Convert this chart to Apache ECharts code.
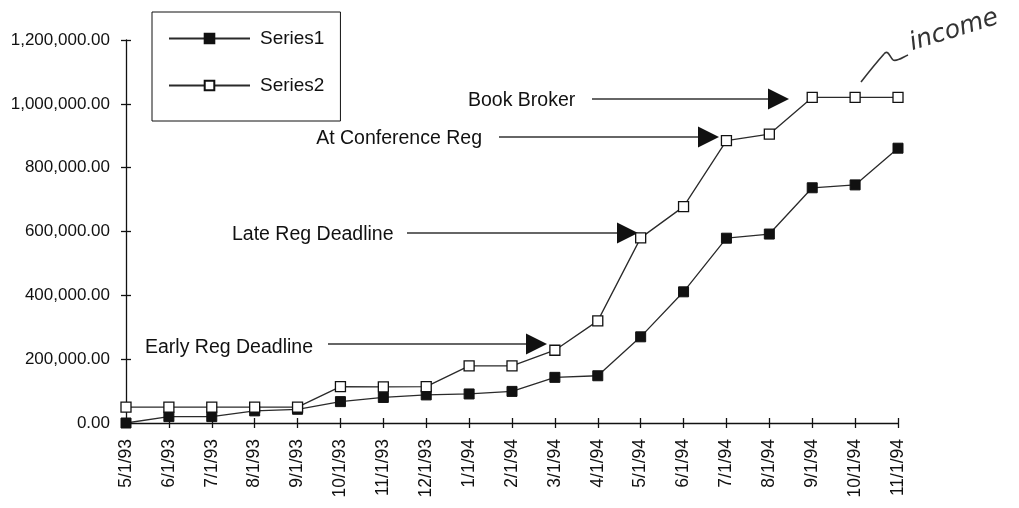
<!DOCTYPE html>
<html>
<head>
<meta charset="utf-8">
<script src="https://cdn.jsdelivr.net/npm/echarts@6/dist/echarts.min.js"></script>
<style>
  html, body { margin: 0; padding: 0; background: #fff; }
  #chart { width: 1019px; height: 508px; }
</style>
</head>
<body>
<div id="chart"></div>
<script>
// month labels on the x axis
var months = ['5/1/93', '6/1/93', '7/1/93', '8/1/93', '9/1/93', '10/1/93', '11/1/93', '12/1/93',
  '1/1/94', '2/1/94', '3/1/94', '4/1/94', '5/1/94', '6/1/94', '7/1/94', '8/1/94', '9/1/94', '10/1/94', '11/1/94'];

// values
var series1 = [0, 20000, 20000, 38000, 43000, 67000, 80000, 88000, 91000, 99000,
  143000, 148000, 270000, 411000, 579000, 592000, 737000, 746000, 861000];
var series2 = [50000, 50000, 50000, 50000, 50000, 114000, 113000, 114000, 179000, 179000,
  228000, 320000, 580000, 678000, 885000, 905000, 1020000, 1020000, 1020000];

var yMin = 0;
var yMax = 1200000;
var yStep = 200000;

var ink = '#111';
var font = '"Liberation Sans", Arial, sans-serif';

function money(v) {
  var s = Math.round(v).toString().replace(/\B(?=(\d{3})+(?!\d))/g, ',');
  return s + '.00';
}

// arrow: horizontal line with a filled triangle head
function arrow(x1, x2, y) {
  return [
    { type: 'line', shape: { x1: x1, y1: y, x2: x2 - 20, y2: y }, style: { stroke: '#333', lineWidth: 1.3 } },
    { type: 'polygon', shape: { points: [[x2 - 21, y - 10.5], [x2, y], [x2 - 21, y + 10.5]] }, style: { fill: '#111' } }
  ];
}

function note(txt, x, y, align) {
  return {
    type: 'text', x: x, y: y,
    style: { text: txt, font: '19.5px ' + font, fill: ink, align: align || 'left', verticalAlign: 'middle' }
  };
}

function stroke(x1, y1, c1x, c1y, c2x, c2y, x2, y2) {
  return {
    type: 'bezierCurve',
    shape: { x1: x1, y1: y1, cpx1: c1x, cpy1: c1y, cpx2: c2x, cpy2: c2y, x2: x2, y2: y2 },
    style: { stroke: '#333', lineWidth: 1.6, fill: null }
  };
}

var chart = echarts.init(document.getElementById('chart'));

var graphics = [];
graphics.push(note('Early Reg Deadline', 145, 348));
graphics = graphics.concat(arrow(328, 547, 344));
graphics.push(note('Late Reg Deadline', 232, 235));
graphics = graphics.concat(arrow(407, 638, 233));
graphics.push(note('At Conference Reg', 482, 139, 'right'));
graphics = graphics.concat(arrow(499, 719, 137));
graphics.push(note('Book Broker', 468, 101));
graphics = graphics.concat(arrow(592, 789, 99));
// handwritten note
graphics.push(stroke(861, 82, 868, 73, 876, 63, 884, 54));
graphics.push(stroke(884, 54, 888, 49, 890, 57, 893, 60));
graphics.push(stroke(893, 60, 897, 62, 903, 57, 908, 55));
graphics.push({
  type: 'text', x: 914, y: 56, rotation: 0.3,
  style: { text: 'income', font: 'italic 25px "DejaVu Sans", sans-serif', fill: '#333', verticalAlign: 'bottom' }
});

chart.setOption({
  animation: false,
  backgroundColor: '#fff',
  grid: { left: 126, right: 121, top: 40, bottom: 85, containLabel: false },
  legend: {
    data: ['Series1', 'Series2'],
    orient: 'vertical',
    left: 152,
    top: 12,
    padding: [17, 16, 26, 16],
    itemWidth: 81,
    itemHeight: 12,
    itemGap: 28,
    borderColor: ink,
    borderWidth: 1,
    textStyle: { fontFamily: font, fontSize: 19, color: ink, padding: [0, 0, 0, 5] }
  },
  xAxis: [{
    type: 'category',
    data: months,
    boundaryGap: false,
    position: 'bottom',
    axisLine: { lineStyle: { color: ink, width: 1.3 } },
    axisTick: { show: true, interval: 0, length: 5, lineStyle: { color: ink, width: 1.3 } },
    axisLabel: { interval: 0, rotate: 90, margin: 16, fontFamily: font, fontSize: 17.5, color: ink },
    splitLine: { show: false }
  }, {
    type: 'category',
    data: months,
    boundaryGap: false,
    position: 'bottom',
    axisLine: { show: false },
    axisTick: { show: true, inside: true, interval: 0, length: 5, lineStyle: { color: ink, width: 1.3 } },
    axisLabel: { show: false },
    splitLine: { show: false }
  }],
  yAxis: [{
    type: 'value',
    min: yMin, max: yMax, interval: yStep,
    axisLine: { show: true, lineStyle: { color: ink, width: 1.3 } },
    axisTick: { show: true, length: 5, lineStyle: { color: ink, width: 1.3 } },
    axisLabel: { margin: 16, fontFamily: font, fontSize: 17, color: ink, formatter: money },
    splitLine: { show: false }
  }, {
    type: 'value',
    position: 'left',
    min: yMin, max: yMax, interval: yStep,
    axisLine: { show: false },
    axisTick: { show: true, inside: true, length: 5, lineStyle: { color: ink, width: 1.3 } },
    axisLabel: { show: false },
    splitLine: { show: false }
  }],
  series: [{
    name: 'Series1',
    type: 'line',
    data: series1,
    symbol: 'rect',
    symbolSize: 10,
    itemStyle: { color: '#111', borderColor: '#111', borderWidth: 1 },
    lineStyle: { color: '#2a2a2a', width: 1.3 }
  }, {
    name: 'Series2',
    type: 'line',
    data: series2,
    symbol: 'rect',
    symbolSize: 10,
    itemStyle: { color: '#fff', borderColor: '#111', borderWidth: 1.3 },
    lineStyle: { color: '#2a2a2a', width: 1.3 }
  }],
  graphic: graphics
});
</script>
</body>
</html>
